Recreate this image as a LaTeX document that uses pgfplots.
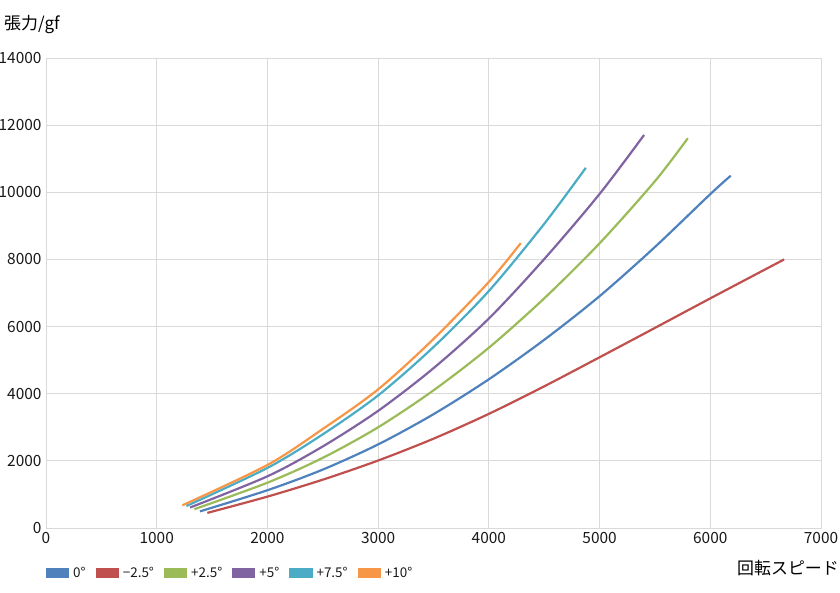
\documentclass[border=0pt]{standalone}
\usepackage{fontspec}
\setmainfont{Noto Sans CJK JP}
\usepackage{pgfplots}
\usepackage{pgfplotstable}
\pgfplotsset{compat=1.18}
\definecolor{cB}{HTML}{4F81BD}
\definecolor{cR}{HTML}{C0504D}
\definecolor{cG}{HTML}{9BBB59}
\definecolor{cP}{HTML}{8064A2}
\definecolor{cC}{HTML}{4BACC6}
\definecolor{cO}{HTML}{F79646}
\definecolor{gridgray}{HTML}{D9D9D9}

\pgfplotstableread{
x y
1391 495
2000 1125
2500 1740
3000 2490
3500 3390
4000 4430
4500 5605
5000 6905
5500 8370
6000 9945
6185 10495
}\tblB
\pgfplotstableread{
x y
1457 450
2000 935
2500 1440
3000 2010
3500 2660
4000 3400
4500 4220
5000 5085
5500 5960
6000 6840
6667 8000
}\tblR
\pgfplotstableread{
x y
1340 560
2000 1350
2500 2090
3000 3000
3500 4100
4000 5370
4500 6840
5000 8480
5500 10330
5797 11610
}\tblG
\pgfplotstableread{
x y
1301 610
2000 1540
2500 2430
3000 3490
3500 4760
4000 6240
4500 8010
5000 9950
5402 11707
}\tblP
\pgfplotstableread{
x y
1268 655
2000 1790
2500 2790
3000 3950
3500 5390
4000 7060
4500 9060
4876 10730
}\tblC
\pgfplotstableread{
x y
1232 676
2000 1877
2500 2950
3000 4130
3500 5630
4000 7330
4288 8485
}\tblO

\begin{document}
\begin{tikzpicture}
\useasboundingbox (0,0) rectangle (840bp,593bp);
\begin{axis}[
  at={(46bp,65bp)}, anchor=south west,
  scale only axis, width=775bp, height=470bp,
  xmin=0, xmax=7000, ymin=0, ymax=14000,
  xtick={0,1000,...,7000}, ytick={0,2000,...,14000},
  scaled ticks=false,
  grid=major,
  major grid style={draw=gridgray, line width=0.9bp},
  axis line style={draw=gridgray, line width=0.9bp},
  major tick length=0pt,
  tick label style={font=\fontsize{15.5}{17}\selectfont, text=black!90},
  xticklabel style={yshift=-1bp},
  yticklabel style={xshift=-1bp},
  /pgf/number format/assume math mode=true,
  /pgf/number format/1000 sep={},
  legend columns=6,
  legend style={at={(0,-0.0957)}, anchor=west, draw=none, fill=none,
    inner sep=0pt, outer sep=0pt,
    font=\fontsize{13.5}{15}\selectfont,
    nodes={inner sep=0pt, text=black!90},
    /tikz/every odd column/.append style={column sep=4bp},
    /tikz/every even column/.append style={column sep=10bp}},
  legend image code/.code={\fill[#1] (0bp,-4bp) rectangle (21bp,4bp);},
  every axis plot/.append style={line width=2.2bp, smooth, no markers},
]
\addplot[cB] table {\tblB};
\addlegendentry{0°}
\addplot[cR] table {\tblR};
\addlegendentry{−2.5°}
\addplot[cG] table {\tblG};
\addlegendentry{+2.5°}
\addplot[cP] table {\tblP};
\addlegendentry{+5°}
\addplot[cC] table {\tblC};
\addlegendentry{+7.5°}
\addplot[cO] table {\tblO};
\addlegendentry{+10°}
\end{axis}
\node[anchor=west, font=\fontsize{17}{20}\selectfont, inner sep=0pt] at (4bp,568bp) {張力/gf};
\node[anchor=east, font=\fontsize{17}{20}\selectfont, inner sep=0pt] at (839bp,25bp) {回転スピード};
\end{tikzpicture}
\end{document}
